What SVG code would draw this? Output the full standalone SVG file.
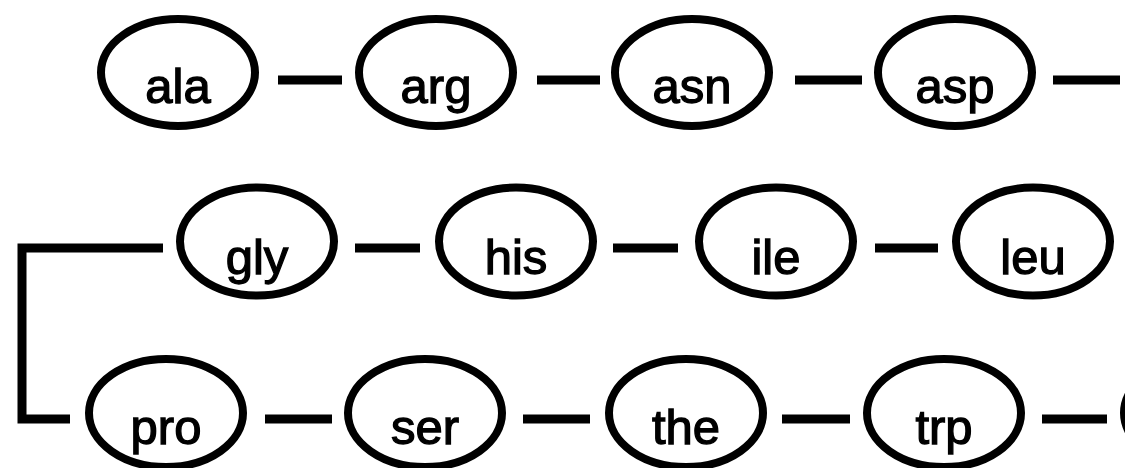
<svg xmlns="http://www.w3.org/2000/svg" width="1125" height="468" viewBox="0 0 1125 468">
  <style>
    .node ellipse { fill: #ffffff; stroke: #000000; stroke-width: 8; }
    .node text { font-family: "Liberation Sans", Arial, sans-serif; font-size: 49px; fill: #000000; text-anchor: middle; stroke: #000000; stroke-width: 1.3; }
    .links line, .links path { stroke: #000000; stroke-width: 9; fill: none; }
  </style>
  <rect width="1125" height="468" fill="#ffffff"/>

  <!-- connectors -->
  <g class="links">
    <line x1="278" y1="80" x2="342" y2="80"/>
    <line x1="537" y1="80" x2="600" y2="80"/>
    <line x1="795" y1="80" x2="862" y2="80"/>
    <line x1="1053" y1="80" x2="1120" y2="80"/>

    <path d="M163,248 H22 V419 H70"/>
    <line x1="355" y1="248" x2="420" y2="248"/>
    <line x1="613" y1="248" x2="678" y2="248"/>
    <line x1="875" y1="248" x2="938" y2="248"/>

    <line x1="265" y1="419" x2="332" y2="419"/>
    <line x1="523" y1="419" x2="590" y2="419"/>
    <line x1="782" y1="419" x2="850" y2="419"/>
    <line x1="1042" y1="419" x2="1107" y2="419"/>
  </g>

  <!-- row 1 -->
  <g id="ala" class="node"><ellipse cx="178" cy="72.5" rx="77" ry="53.5"/><text x="178" y="103">ala</text></g>
  <g id="arg" class="node"><ellipse cx="436" cy="72.5" rx="77" ry="53.5"/><text x="436" y="103">arg</text></g>
  <g id="asn" class="node"><ellipse cx="692" cy="72.5" rx="77" ry="53.5"/><text x="692" y="103">asn</text></g>
  <g id="asp" class="node"><ellipse cx="955" cy="72.5" rx="77" ry="53.5"/><text x="955" y="103">asp</text></g>

  <!-- row 2 -->
  <g id="gly" class="node"><ellipse cx="257" cy="241.5" rx="77" ry="54"/><text x="257" y="274">gly</text></g>
  <g id="his" class="node"><ellipse cx="516" cy="241.5" rx="77" ry="54"/><text x="516" y="274">his</text></g>
  <g id="ile" class="node"><ellipse cx="776" cy="241.5" rx="77" ry="54"/><text x="776" y="274">ile</text></g>
  <g id="leu" class="node"><ellipse cx="1033" cy="241.5" rx="77" ry="54"/><text x="1033" y="274">leu</text></g>

  <!-- row 3 -->
  <g id="pro" class="node"><ellipse cx="166" cy="413" rx="77" ry="54"/><text x="166" y="444">pro</text></g>
  <g id="ser" class="node"><ellipse cx="425" cy="413" rx="77" ry="54"/><text x="425" y="444">ser</text></g>
  <g id="the" class="node"><ellipse cx="686" cy="413" rx="77" ry="54"/><text x="686" y="444">the</text></g>
  <g id="trp" class="node"><ellipse cx="944" cy="413" rx="77" ry="54"/><text x="944" y="444">trp</text></g>
  <g id="next" class="node"><ellipse cx="1201" cy="413" rx="77" ry="54"/></g>
</svg>
